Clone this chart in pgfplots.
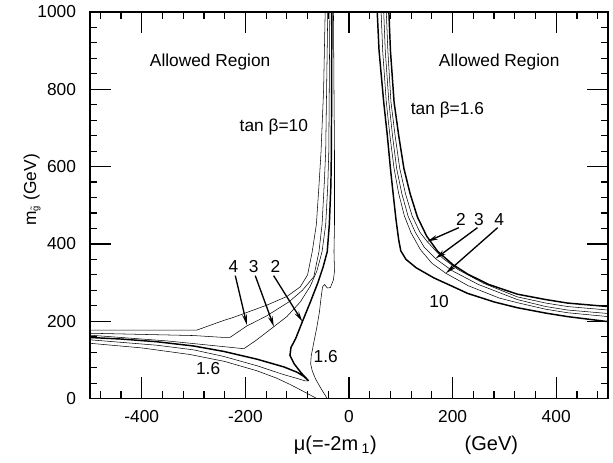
\documentclass[border=0pt]{standalone}
\usepackage{fontspec}
\setmainfont{Liberation Sans}
\usepackage{pgfplots}
\pgfplotsset{compat=1.18}
\usetikzlibrary{arrows.meta}

\begin{document}
\fontsize{13}{15}\selectfont
\begin{tikzpicture}
\begin{axis}[
    name=main,
    scale only axis,
    width=388.5pt, height=290pt,
    xmin=-500, xmax=500, ymin=0, ymax=1000,
    xtick={-400,-200,0,200,400},
    ytick={0,200,400,600,800,1000},
    major tick length=0pt,
    axis line style={line width=1.2pt},
    /pgf/number format/assume math mode=true,
    /pgf/number format/1000 sep={},
    tick label style={font=\fontsize{13}{15}\selectfont},
    xticklabel style={yshift=-4pt},
    yticklabel style={xshift=-6pt},
    xlabel={\fontsize{15}{17}\selectfont μ(=-2m\,\textsubscript{1})\hspace{4.4em}(GeV)},
    ylabel={m$_{\tilde{\hbox{\scriptsize g}}}$ (GeV)},
    every axis x label/.style={at={(axis description cs:0.61,-0.12)}, anchor=center},
    every axis y label/.style={at={(axis description cs:-0.112,0.54)}, rotate=90, anchor=center},
    cycle list={{black, solid, mark=none, line width=1.1pt}},
]
% ---- mu < 0, tan beta = 10 panel ----
% 10
\addplot coordinates {(-500,177)(-294,177)(-242,202)(-223,210)(-158,242)(-120,264)(-94,289)(-80,320)(-71,380)(-63,450)(-58,550)(-54,638)(-49,800)(-46,1000)};
% 4
\addplot coordinates {(-500,169)(-300,163)(-240,158)(-230,158)(-197,188)(-160,213)(-116,250)(-90,280)(-68,315)(-58,380)(-52,450)(-48,550)(-45,638)(-41,1000)};
% 3
\addplot coordinates {(-500,164)(-350,149)(-203,129)(-180,150)(-145,186)(-120,212)(-94,250)(-75,290)(-62,330)(-52,380)(-45,450)(-41,550)(-39,638)(-37,1000)};
% 2 (wedge, cusp, bump)
\addplot coordinates {(-500,158)(-440,154)(-371,147)(-300,136)(-242,122)(-178,102)(-126,82)(-100,68)(-87,57)(-78,46)
  (-92,66)(-106,90)(-114,112)(-112,132)(-103,155)(-90,199)(-74.5,250)(-60,300)(-50,340)(-42,380)(-38,450)(-35,550)(-34,638)(-33,1000)};
\addplot coordinates {(-500,152)(-371,138)(-300,126)(-242,109)(-178,85)(-126,62)(-100,52)(-85,46)(-78,46)};
% 1.6 lower
\addplot coordinates {(-500,143)(-400,131)(-307,114)(-240,96)(-178,72)(-140,53)(-113,36)(-90,20)(-62,0)};
% 1.6 upper with wiggle
\addplot coordinates {(-30,1000)(-29,800)(-28,638)(-28,450)(-29,380)(-28,330)(-30,307)(-36,287)(-42,286)(-47,295)(-51,289)(-54,260)(-57,225)(-62,185)(-68,145)(-73,110)(-74,90)(-71,72)(-65,52)(-55,28)(-42,0)};
% ---- mu > 0, tan beta = 1.6 panel ----
% 1.6
\addplot coordinates {(77,1000)(80,900)(87,767)(96,680)(106,595)(118,530)(132,470)(150,420)(171,381)(200,347)(229,322)(270,295)(325,270)(380,256)(422,247)(500,238)};
% 2
\addplot coordinates {(72,1000)(75,900)(81,767)(89,680)(98,595)(109,530)(122,472)(137,430)(151,406)(180,364)(210,334)(260,298)(325,263)(380,247)(422,238)(500,229)};
% 3
\addplot coordinates {(67,1000)(70,900)(77,767)(84,680)(92,595)(102,530)(114,472)(128,430)(145,392)(167,362)(200,330)(250,295)(325,256)(380,238)(422,229)(500,220)};
% 4
\addplot coordinates {(62,1000)(65,900)(72,767)(79,680)(87,595)(96,530)(107,472)(120,428)(138,385)(160,350)(187,324)(230,292)(290,260)(325,248)(380,231)(422,222)(500,212)};
% 10
\addplot coordinates {(54.5,1000)(58,900)(67,767)(74,680)(80,595)(86,520)(91,460)(96,410)(100,382)(110,360)(130,338)(164,312)(200,290)(229,272)(280,250)(325,235)(380,221)(422,212)(500,199)};

% tick marks on all four sides, pointing inwards (ends given in axis units)
\tikzset{tk/.style={black, line width=0.9pt}}
\pgfplotsinvokeforeach{-400,-200,0,200,400}{
  \draw[tk] (axis cs:#1,0) -- (axis cs:#1,55);
  \draw[tk] (axis cs:#1,1000) -- (axis cs:#1,945);
}
\pgfplotsinvokeforeach{-480,-440,-360,-320,-280,-240,-160,-120,-80,-40,40,80,120,160,240,280,320,360,440,480}{
  \draw[tk] (axis cs:#1,0) -- (axis cs:#1,19);
  \draw[tk] (axis cs:#1,1000) -- (axis cs:#1,981);
}
\pgfplotsinvokeforeach{200,400,600,800}{
  \draw[tk] (axis cs:-500,#1) -- (axis cs:-459,#1);
  \draw[tk] (axis cs:500,#1) -- (axis cs:459,#1);
}
\pgfplotsinvokeforeach{40,80,120,160,240,280,320,360,440,480,520,560,640,680,720,760,840,880,920,960}{
  \draw[tk] (axis cs:-500,#1) -- (axis cs:-486,#1);
  \draw[tk] (axis cs:500,#1) -- (axis cs:486,#1);
}

% labels
\node at (axis cs:-268,871) {Allowed Region};
\node at (axis cs:290,871) {Allowed Region};
\node at (axis cs:-145,703) {tan β=10};
\node at (axis cs:190,746) {tan β=1.6};
\node at (axis cs:-223,341) {4};
\node at (axis cs:-184,341) {3};
\node at (axis cs:-142,341) {2};
\node at (axis cs:-272,78) {1.6};
\node at (axis cs:-45,108) {1.6};
\node at (axis cs:216,462) {2};
\node at (axis cs:251,462) {3};
\node at (axis cs:290,462) {4};
\node at (axis cs:174,251) {10};
\tikzset{lab/.style={line width=1pt, -{Stealth[length=8pt,width=3.5pt]}}}
\draw[lab] (axis cs:-219.5,318) -- (axis cs:-197,190);
\draw[lab] (axis cs:-181,318) -- (axis cs:-145,186);
\draw[lab] (axis cs:-145.5,318) -- (axis cs:-90,199);
\draw[lab] (axis cs:212,442) -- (axis cs:151,406);
\draw[lab] (axis cs:248,442) -- (axis cs:167,362);
\draw[lab] (axis cs:287,442) -- (axis cs:187,324);
\end{axis}
\path (main.south west) ++(-67.5pt,-48pt) coordinate (bbA);
\path (main.north east) ++(3.75pt,7.5pt) coordinate (bbB);
\path (bbA) rectangle (bbB);
\end{tikzpicture}
\end{document}
